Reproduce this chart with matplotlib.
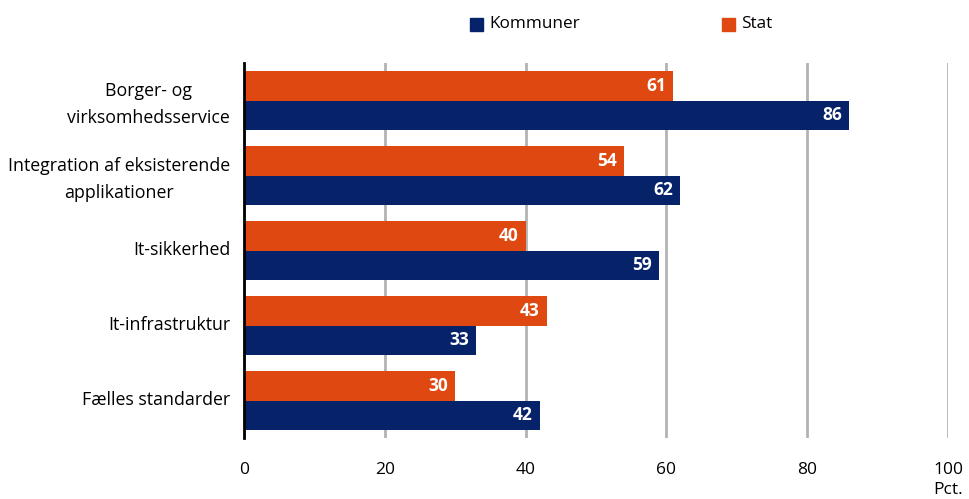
import matplotlib.pyplot as plt
from matplotlib.patches import Rectangle
from matplotlib.transforms import ScaledTranslation
import numpy as np

plt.rcParams['font.family'] = ['Open Sans', 'DejaVu Sans']

categories = ["Borger- og\nvirksomhedsservice",
              "Integration af eksisterende\napplikationer",
              "It-sikkerhed",
              "It-infrastruktur",
              "Fælles standarder"]
stat = [61, 54, 40, 43, 30]
kommuner = [86, 62, 59, 33, 42]

navy = "#062369"
orange = "#DF4911"

fig = plt.figure(figsize=(9.69, 4.99), dpi=100)
ax = fig.add_axes([0.2518, 0.1222, 0.7265, 0.7515])

y = np.arange(len(categories))
h = 0.39
ax.barh(y - h / 2, stat, height=h, color=orange, zorder=3)
ax.barh(y + h / 2, kommuner, height=h, color=navy, zorder=3)

for yi, s, k in zip(y, stat, kommuner):
    ax.text(s - 1.0, yi - h / 2, str(s), color="white", fontweight="bold",
            fontsize=12.5, ha="right", va="center", zorder=4)
    ax.text(k - 1.0, yi + h / 2, str(k), color="white", fontweight="bold",
            fontsize=12.5, ha="right", va="center", zorder=4)

ax.set_xlim(0, 100)
ax.set_ylim(len(categories) - 0.5, -0.5)
ax.set_xticks([0, 20, 40, 60, 80, 100])
ax.set_yticks(y)
ax.set_yticklabels(categories, fontsize=12.8, linespacing=1.65)
ax.tick_params(axis="both", length=0)
ax.tick_params(axis="x", pad=17, labelsize=12.5)
ax.tick_params(axis="y", pad=10)
# nudge category labels up a few pixels
shift = ScaledTranslation(0, 3 / 100, fig.dpi_scale_trans)
for lbl in ax.get_yticklabels():
    lbl.set_horizontalalignment("right")
    lbl.set_multialignment("center")
    lbl.set_transform(lbl.get_transform() + shift)

ax.xaxis.grid(True, color="#b3b3b3", linewidth=2, zorder=0)
for side in ["top", "right", "bottom"]:
    ax.spines[side].set_visible(False)
ax.spines["left"].set_color("black")
ax.spines["left"].set_linewidth(2)
ax.spines["left"].set_zorder(5)

fig.text(0.9783, 0.003, "Pct.", fontsize=12.5, ha="center", va="bottom")

# legend drawn by hand in figure coordinates
fig.patches.append(Rectangle((470 / 969, 1 - 31 / 499), 13 / 969, 13 / 499,
                             transform=fig.transFigure, color=navy))
fig.text(489 / 969, 1 - 24 / 499, "Kommuner", fontsize=12.3, va="center")
fig.patches.append(Rectangle((722 / 969, 1 - 31 / 499), 13 / 969, 13 / 499,
                             transform=fig.transFigure, color=orange))
fig.text(741 / 969, 1 - 24 / 499, "Stat", fontsize=12.3, va="center")

fig.savefig("out.png", dpi=100)
